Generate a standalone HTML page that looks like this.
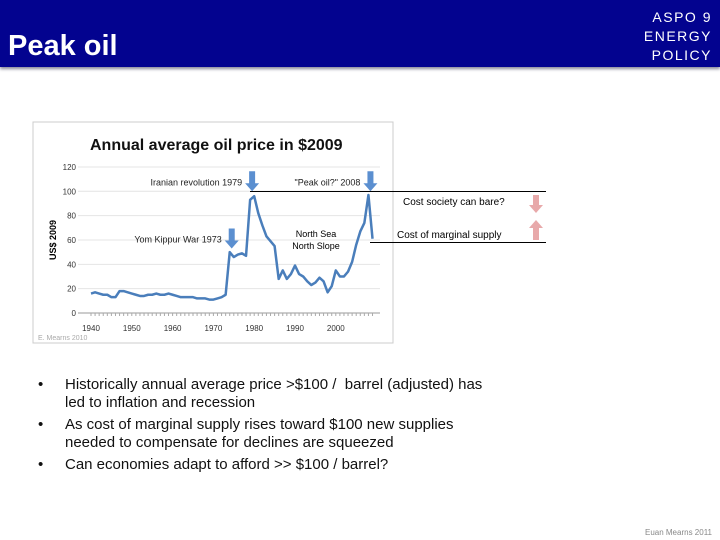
<!DOCTYPE html>
<html><head><meta charset="utf-8"><style>
body{margin:0;width:720px;height:540px;background:#fff;position:relative;overflow:hidden;font-family:"Liberation Sans",sans-serif}
.hdr{position:absolute;left:0;top:0;width:720px;height:67px;background:#03038f;box-shadow:0 2px 3px #889}
.title{position:absolute;left:8px;top:30px;color:#fff;font-size:29px;font-weight:bold}
.logo{position:absolute;right:8px;top:8px;color:#fff;font-size:14px;text-align:right;line-height:19px;letter-spacing:1.5px;font-variant:small-caps}
ul{position:absolute;left:38px;top:376px;width:456px;margin:0;padding:0;list-style:none;font-size:15px;color:#111;line-height:18px}
li{position:relative;padding-left:27px;margin-bottom:4px}
li:before{content:"•";position:absolute;left:0}
.foot{position:absolute;right:8px;top:528px;font-size:8px;color:#888}
</style></head><body>
<div class="hdr"></div>
<div class="title">Peak oil</div>
<div class="logo">ASPO 9<br>ENERGY<br>POLICY</div>
<svg id="c" width="720" height="540" style="position:absolute;left:0;top:0">
<rect x="33" y="122" width="360" height="221" fill="#fff" stroke="#ccc"/>
<text x="90" y="150" font-size="16" font-weight="bold" fill="#111">Annual average oil price in $2009</text>
<text transform="translate(56,240) rotate(-90)" text-anchor="middle" font-size="9" font-weight="bold">US$ 2009</text>
<text x="38" y="340" font-size="7" fill="#aaa">E. Mearns 2010</text>
<g id="g"></g>
<line x1="250" y1="191.5" x2="546" y2="191.5" stroke="#000"/>
<line x1="370" y1="242.5" x2="546" y2="242.5" stroke="#000"/>
<text x="403" y="205" font-size="10">Cost society can bare?</text>
<text x="397" y="238" font-size="10">Cost of marginal supply</text>
<path d="M533 195h6v10h4l-7 8-7-8h4z" fill="#e8a9aa"/>
<path d="M536 220l7 8h-4v12h-6v-12h-4z" fill="#e8a9aa"/>
</svg>
<ul>
<li>Historically annual average price &gt;$100 /&nbsp; barrel (adjusted) has led to inflation and recession</li>
<li>As cost of marginal supply rises toward $100 new supplies needed to compensate for declines are squeezed</li>
<li>Can economies adapt to afford &gt;&gt; $100 / barrel?</li>
</ul>
<div class="foot">Euan Mearns 2011</div>
<script>
const years=[];for(let y=1940;y<=2009;y++)years.push(y);
const prices=[16,17,16,15,15,13,13,18,18,17,16,15,14,14,15,15,16,15,15,16,15,14,13,13,13,13,12,12,12,11,11,12,13,15,50,46,48,49,47,93,96,82,72,63,59,55,28,35,28,32,39,32,30,26,23,25,29,26,17,22,35,30,30,34,42,56,67,74,97,61];
const yTicks=[0,20,40,60,80,100,120];
const xTicks=[1940,1950,1960,1970,1980,1990,2000];
const X=y=>91+(y-1940)*4.08, Y=v=>313-v*1.217;
const NS="http://www.w3.org/2000/svg",g=document.getElementById('g');
function mk(t,a,txt){const e=document.createElementNS(NS,t);for(const k in a)e.setAttribute(k,a[k]);if(txt!==undefined)e.textContent=txt;g.appendChild(e);return e;}
yTicks.forEach(v=>{
 const l=mk('line',{x1:78,x2:380,y1:Y(v),y2:Y(v),stroke:v?'#e4e4e4':'#999'});
 
 
 const t=mk('text',{x:76,y:Y(v)+3,'text-anchor':'end','font-size':8,fill:'#333'},v);
 
 
});
years.forEach(y=>{const l=mk('line',{x1:X(y),x2:X(y),y1:313,y2:316,stroke:'#aaa'});
 
 });
xTicks.forEach(y=>{const t=mk('text',{x:X(y),y:331,'text-anchor':'middle','font-size':8,fill:'#333'},y);
 
 });
const p=mk('polyline',{points:years.map((y,i)=>X(y)+','+Y(prices[i])).join(' '),fill:'none',stroke:'#4a7ebb','stroke-width':2.5,'stroke-linejoin':'round'});


[[1979,"Iranian revolution 1979",100],[2008,"\"Peak oil?\" 2008",100],[1974,"Yom Kippur War 1973",53]].forEach(a=>{
 const x=X(a[0])+2,y0=Y(a[2]);
 const ar=mk('path',{d:`M${x-3} ${y0-20}h6v12h4l-7 8-7-8h4z`,fill:'#5b8fd0'});
 
 
 const t=mk('text',{x:x-10,y:y0-6,'text-anchor':'end','font-size':9,fill:'#222'},a[1]);
 
 
});
const n1=mk('text',{x:316,y:237,'text-anchor':'middle','font-size':9},'North Sea');


const n2=mk('text',{x:316,y:249,'text-anchor':'middle','font-size':9},'North Slope');


</script>
</body></html>
